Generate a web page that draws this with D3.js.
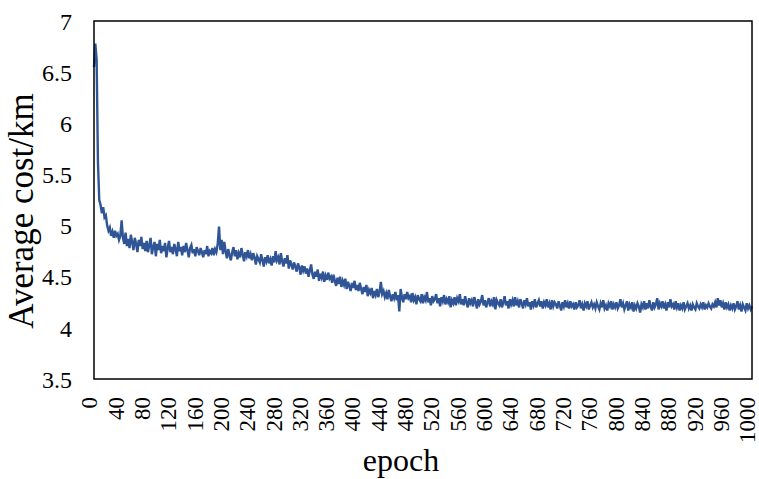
<!DOCTYPE html>
<html>
<head>
<meta charset="utf-8">
<script src="https://cdn.jsdelivr.net/npm/d3@7"></script>
<style>
  body { margin: 0; background: #fff; }
  text { font-family: "Liberation Serif", "Times New Roman", serif; fill: #000; }
</style>
</head>
<body>
<div id="chart"></div>
<script>
// average cost per km, one value every 2 epochs (epoch = 2 * index)
const COST = [
  6.55, 6.78, 6.62, 5.62, 5.25, 5.2, 5.12, 5.18, 5.08, 5.1, 5.0, 4.95, 4.98, 4.9, 4.94, 4.88, 4.95, 4.9, 4.92, 4.86,
  4.9, 5.05, 4.88, 4.82, 4.93, 4.8, 4.87, 4.78, 4.91, 4.84, 4.76, 4.88, 4.82, 4.74, 4.86, 4.8, 4.89, 4.77, 4.83, 4.75,
  4.85, 4.74, 4.81, 4.88, 4.72, 4.79, 4.84, 4.7, 4.82, 4.76, 4.86, 4.73, 4.8, 4.75, 4.83, 4.69, 4.78, 4.85, 4.74, 4.79,
  4.72, 4.82, 4.77, 4.7, 4.84, 4.75, 4.79, 4.71, 4.8, 4.74, 4.83, 4.76, 4.69, 4.78, 4.81, 4.73, 4.77, 4.7, 4.79, 4.75,
  4.71, 4.78, 4.74, 4.69, 4.76, 4.72, 4.8, 4.7, 4.75, 4.73, 4.78, 4.71, 4.77, 4.74, 4.82, 4.99, 4.76, 4.86, 4.72, 4.84,
  4.75, 4.68, 4.77, 4.71, 4.66, 4.74, 4.79, 4.7, 4.76, 4.67, 4.73, 4.69, 4.78, 4.72, 4.65, 4.74, 4.7, 4.76, 4.68, 4.72,
  4.66, 4.73, 4.69, 4.62, 4.7, 4.67, 4.64, 4.72, 4.66, 4.6, 4.69, 4.65, 4.71, 4.63, 4.67, 4.61, 4.7, 4.64, 4.75, 4.66,
  4.69, 4.62, 4.73, 4.65, 4.6, 4.68, 4.63, 4.71, 4.58, 4.66, 4.62, 4.57, 4.64, 4.6, 4.55, 4.63, 4.59, 4.52, 4.61, 4.56,
  4.6, 4.53, 4.58, 4.5, 4.56, 4.62, 4.52, 4.48, 4.55, 4.5, 4.57, 4.46, 4.53, 4.49, 4.55, 4.45, 4.51, 4.47, 4.54, 4.48,
  4.5, 4.44, 4.52, 4.46, 4.41, 4.49, 4.43, 4.5, 4.4, 4.46, 4.42, 4.48, 4.38, 4.45, 4.41, 4.36, 4.44, 4.39, 4.46, 4.37,
  4.42, 4.36, 4.44, 4.38, 4.33, 4.4, 4.35, 4.42, 4.31, 4.37, 4.34, 4.39, 4.29, 4.36, 4.32, 4.38, 4.3, 4.35, 4.45, 4.33,
  4.36, 4.3, 4.34, 4.28, 4.37, 4.31, 4.26, 4.33, 4.29, 4.35, 4.27, 4.32, 4.16, 4.38, 4.3, 4.25, 4.33, 4.28, 4.35, 4.29,
  4.31, 4.25, 4.34, 4.27, 4.3, 4.23, 4.32, 4.28, 4.26, 4.33, 4.24, 4.3, 4.27, 4.35, 4.25, 4.29, 4.22, 4.31, 4.26, 4.28,
  4.33, 4.24, 4.29, 4.21, 4.3, 4.26, 4.32, 4.23, 4.28, 4.25, 4.31, 4.2, 4.27, 4.24, 4.3, 4.22, 4.29, 4.26, 4.33, 4.23,
  4.28, 4.22, 4.31, 4.25, 4.2, 4.29, 4.24, 4.27, 4.21, 4.3, 4.25, 4.19, 4.28, 4.23, 4.26, 4.32, 4.22, 4.27, 4.2, 4.25,
  4.29, 4.21, 4.26, 4.23, 4.3, 4.18, 4.27, 4.24, 4.22, 4.28, 4.2, 4.25, 4.31, 4.22, 4.26, 4.19, 4.28, 4.23, 4.27, 4.21,
  4.3, 4.22, 4.26, 4.2, 4.28, 4.24, 4.19, 4.27, 4.23, 4.29, 4.21, 4.25, 4.18, 4.26, 4.22, 4.28, 4.2, 4.24, 4.27, 4.21,
  4.26, 4.19, 4.25, 4.22, 4.28, 4.2, 4.24, 4.18, 4.27, 4.21, 4.25, 4.23, 4.19, 4.26, 4.22, 4.17, 4.25, 4.21, 4.27, 4.2,
  4.24, 4.19, 4.26, 4.21, 4.23, 4.18, 4.25, 4.2, 4.22, 4.27, 4.19, 4.23, 4.17, 4.24, 4.21, 4.26, 4.18, 4.22, 4.25, 4.2,
  4.23, 4.19, 4.25, 4.21, 4.18, 4.24, 4.2, 4.27, 4.19, 4.22, 4.17, 4.24, 4.21, 4.26, 4.18, 4.23, 4.2, 4.25, 4.19, 4.22,
  4.28, 4.2, 4.24, 4.18, 4.22, 4.26, 4.17, 4.23, 4.2, 4.25, 4.16, 4.22, 4.19, 4.24, 4.21, 4.15, 4.23, 4.2, 4.26, 4.18,
  4.24, 4.19, 4.27, 4.21, 4.17, 4.25, 4.2, 4.23, 4.29, 4.18, 4.24, 4.21, 4.26, 4.19, 4.23, 4.17, 4.25, 4.2, 4.28, 4.21,
  4.23, 4.18, 4.26, 4.2, 4.24, 4.17, 4.22, 4.19, 4.25, 4.18, 4.21, 4.24, 4.19, 4.22, 4.17, 4.23, 4.2, 4.18, 4.24, 4.21,
  4.19, 4.23, 4.2, 4.25, 4.18, 4.22, 4.2, 4.24, 4.21, 4.19, 4.23, 4.21, 4.25, 4.2, 4.29, 4.22, 4.27, 4.2, 4.24, 4.18,
  4.25, 4.2, 4.23, 4.17, 4.22, 4.19, 4.24, 4.18, 4.21, 4.26, 4.18, 4.22, 4.16, 4.23, 4.2, 4.17, 4.24, 4.19, 4.22, 4.18,
  4.21
];
const EPOCH_STEP = 2;

const X_TICKS = [0, 40, 80, 120, 160, 200, 240, 280, 320, 360, 400, 440, 480, 520, 560, 600, 640, 680, 720, 760, 800, 840, 880, 920, 960, 1000];
const Y_TICKS = [3.5, 4, 4.5, 5, 5.5, 6, 6.5, 7];

const X_TITLE = "epoch";
const Y_TITLE = "Average cost/km";

const FRAME_WIDTH = 759;
const FRAME_HEIGHT = 479;
const MARGINS = { left: 94, right: 7, top: 21, bottom: 100 };
const VIS_WIDTH = FRAME_WIDTH - MARGINS.left - MARGINS.right;
const VIS_HEIGHT = FRAME_HEIGHT - MARGINS.top - MARGINS.bottom;

const FRAME = d3.select("#chart")
    .append("svg")
    .attr("width", FRAME_WIDTH)
    .attr("height", FRAME_HEIGHT);

const X_SCALE = d3.scaleLinear().domain([0, 1000]).range([0, VIS_WIDTH]);
const Y_SCALE = d3.scaleLinear().domain([3.5, 7]).range([VIS_HEIGHT, 0]);

const plot = FRAME.append("g")
    .attr("transform", "translate(" + MARGINS.left + "," + MARGINS.top + ")");

// y axis labels
const yAxis = plot.append("g")
    .call(d3.axisLeft(Y_SCALE).tickValues(Y_TICKS).tickSize(0).tickPadding(22).tickFormat(d3.format("")));
yAxis.select(".domain").remove();
yAxis.selectAll("text")
    .attr("font-size", "24px")
    .attr("font-family", "Liberation Serif, Times New Roman, serif")
    .attr("dy", "0.34em");

// x axis labels, rotated
const xAxis = plot.append("g")
    .attr("transform", "translate(0," + VIS_HEIGHT + ")")
    .call(d3.axisBottom(X_SCALE).tickValues(X_TICKS).tickSize(0).tickFormat(d3.format("")));
xAxis.select(".domain").remove();
xAxis.selectAll("text")
    .attr("font-size", "23px")
    .attr("font-family", "Liberation Serif, Times New Roman, serif")
    .attr("transform", "rotate(-90)")
    .attr("x", -18)
    .attr("y", 0)
    .attr("dy", "0.12em")
    .style("text-anchor", "end");

// the line
const line = d3.line()
    .x((d, i) => X_SCALE(i * EPOCH_STEP))
    .y((d) => Y_SCALE(d));

plot.append("path")
    .datum(COST)
    .attr("d", line)
    .attr("fill", "none")
    .attr("stroke", "#2f5597")
    .attr("stroke-width", 2.4)
    .attr("stroke-linejoin", "miter");

// plot frame
plot.append("rect")
    .attr("x", 0)
    .attr("y", 0)
    .attr("width", VIS_WIDTH)
    .attr("height", VIS_HEIGHT)
    .attr("fill", "none")
    .attr("stroke", "#000")
    .attr("stroke-width", 1.5);

// titles
FRAME.append("text")
    .attr("x", 401)
    .attr("y", 471)
    .attr("text-anchor", "middle")
    .attr("font-size", "32px")
    .text(X_TITLE);

FRAME.append("text")
    .attr("transform", "translate(33,211) rotate(-90)")
    .attr("text-anchor", "middle")
    .attr("font-size", "35px")
    .text(Y_TITLE);
</script>
</body>
</html>
